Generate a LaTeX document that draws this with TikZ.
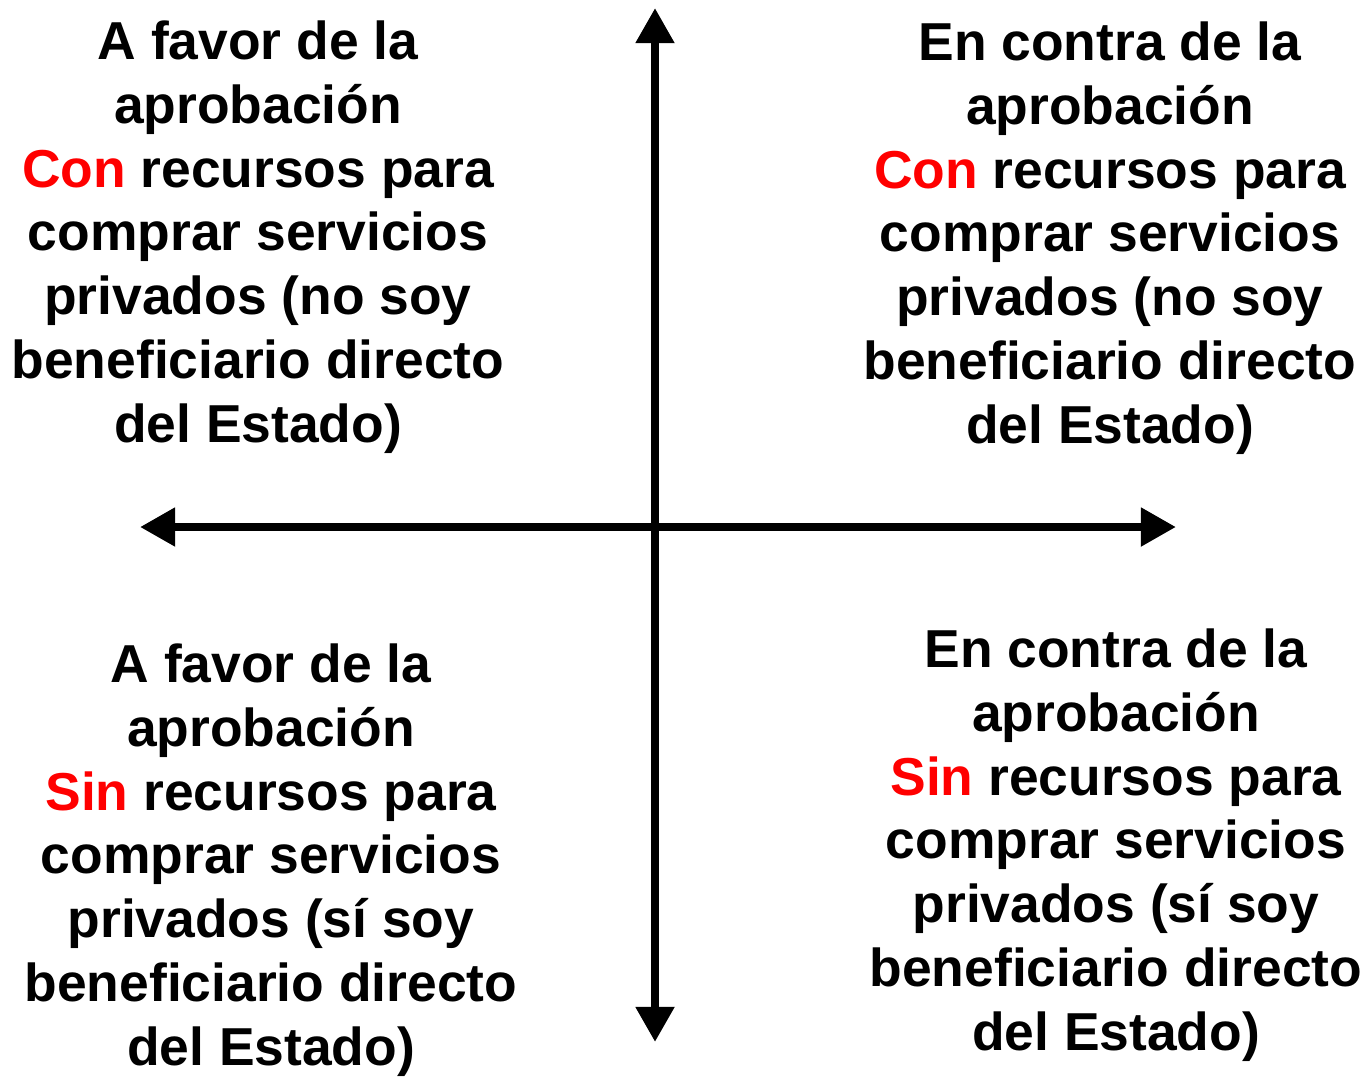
\documentclass[tikz,border=0pt]{standalone}
\usepackage{fontspec}
\setmainfont{Liberation Sans}
\usetikzlibrary{arrows.meta}
\definecolor{keycolor}{RGB}{255,0,0}

\begin{document}
\begin{tikzpicture}[x=0.02cm, y=-0.02cm, >={Triangle[length=20pt, width=21pt]}]
  % Styles
  \tikzset{
    quadrant/.style={align=center, inner sep=0pt, text=black, font=\fontsize{30.4}{36.3}\selectfont\bfseries},
    axis/.style={<->, line width=4.8pt, color=black},
    key/.style={color=keycolor}
  }
  \useasboundingbox (0,0) rectangle (1364,1076);

  % Axes end points
  \coordinate (top) at (655,8);
  \coordinate (bottom) at (655,1042);
  \coordinate (left) at (140,527);
  \coordinate (right) at (1176,527);

  \draw[axis] (bottom) -- (top);
  \draw[axis] (left) -- (right);

  % Quadrant texts
  \node[quadrant] (favorcon) at (258,237) {A favor de la\\aprobación\\\textcolor{keycolor}{Con} recursos para\\comprar servicios\\privados (no soy\\beneficiario directo\\del Estado)};
  \node[quadrant] (contracon) at (1110,238) {En contra de la\\aprobación\\\textcolor{keycolor}{Con} recursos para\\comprar servicios\\privados (no soy\\beneficiario directo\\del Estado)};
  \node[quadrant] (favorsin) at (271,860) {A favor de la\\aprobación\\\textcolor{keycolor}{Sin} recursos para\\comprar servicios\\privados (sí soy\\beneficiario directo\\del Estado)};
  \node[quadrant] (contrasin) at (1116,845) {En contra de la\\aprobación\\\textcolor{keycolor}{Sin} recursos para\\comprar servicios\\privados (sí soy\\beneficiario directo\\del Estado)};
\end{tikzpicture}
\end{document}
